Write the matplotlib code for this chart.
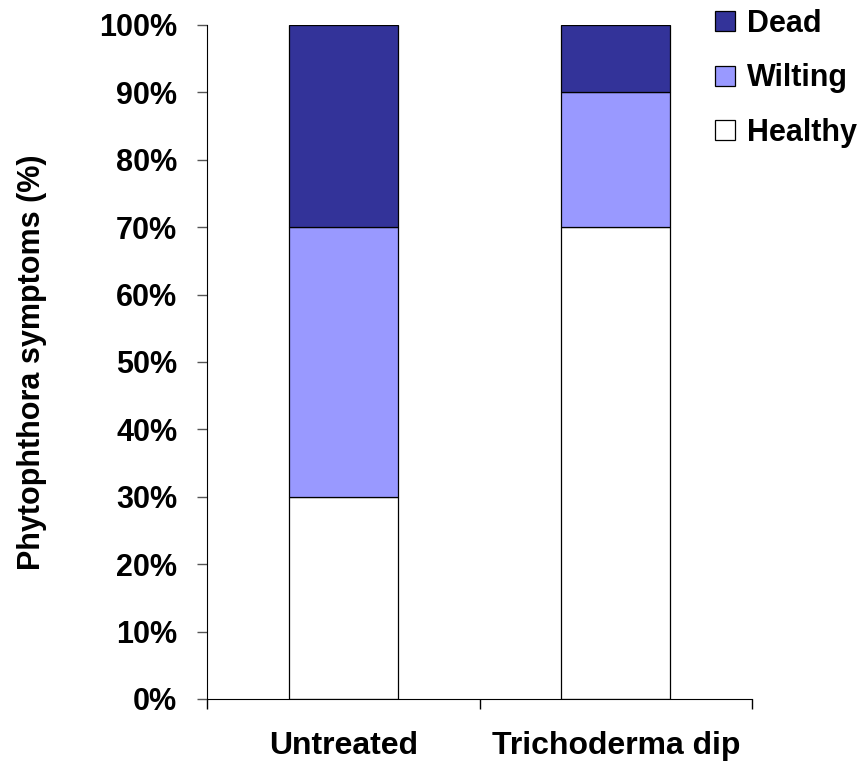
import matplotlib
matplotlib.use("Agg")
import matplotlib.pyplot as plt
from matplotlib.ticker import PercentFormatter
from matplotlib.patches import Patch

plt.rcParams['font.family'] = ['Liberation Sans', 'DejaVu Sans']

treatments = ["Untreated", "Trichoderma dip"]
healthy = [30, 70]
wilting = [40, 20]
dead = [30, 10]

series_names = ["Healthy", "Wilting", "Dead"]
series_colors = ["#FFFFFF", "#9999FF", "#333399"]

fig = plt.figure(figsize=(8.63, 7.62), dpi=100)
ax = fig.add_axes([0.2399, 0.0827, 0.8714 - 0.2399, 0.9672 - 0.0827])

x = list(range(len(treatments)))
bottom = [0] * len(treatments)
for name, vals, col in zip(series_names, [healthy, wilting, dead], series_colors):
    ax.bar(x, vals, width=0.4, bottom=bottom, color=col, edgecolor="black",
           linewidth=0.9, label=name)
    bottom = [b + v for b, v in zip(bottom, vals)]

ax.set_xlim(-0.5, 1.5)
ax.set_ylim(0, 100)
ax.set_yticks(range(0, 101, 10))
ax.yaxis.set_major_formatter(PercentFormatter(decimals=0))

# category boundaries carry the x ticks, names sit centred below
ax.set_xticks([-0.5, 0.5, 1.5])
ax.set_xticklabels([])
for xi, name in zip(x, treatments):
    ax.text(xi, -8.1, name, ha="center", va="baseline", fontsize=23,
            fontweight="bold")

for s in ["top", "right"]:
    ax.spines[s].set_visible(False)
ax.spines["left"].set_color("black")
ax.spines["bottom"].set_color("black")
ax.tick_params(axis="y", direction="out", length=7.5, width=1, color="#555555",
               labelsize=22, pad=14)
ax.tick_params(axis="x", direction="out", length=7.5, width=1, color="black")
for lab in ax.get_yticklabels():
    lab.set_fontweight("bold")

ax.set_ylabel("Phytophthora symptoms (%)", fontsize=22, fontweight="bold")
ax.yaxis.set_label_coords(-0.293, 0.5)

handles = [Patch(facecolor=c, edgecolor="black", linewidth=0.9, label=n)
           for n, c in zip(series_names[::-1], series_colors[::-1])]
leg = fig.legend(handles=handles, loc="upper left",
                 bbox_to_anchor=(715 / 863, 1 - 9 / 762),
                 frameon=False, prop={"size": 22, "weight": "bold"},
                 handlelength=0.65, handleheight=0.65, handletextpad=0.39,
                 labelspacing=0.8, borderpad=0, borderaxespad=0)

fig.savefig("out.png", dpi=100)
